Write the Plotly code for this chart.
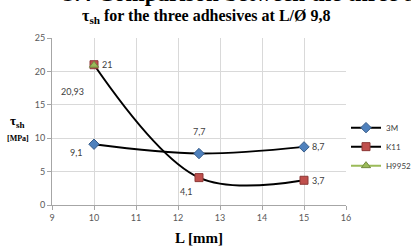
import plotly.graph_objects as go

series_names = ["3M", "K11", "H9952"]
x_3m = [10, 12.5, 15]
y_3m = [9.1, 7.7, 8.7]
x_k11 = [10, 12.5, 15]
y_k11 = [21, 4.1, 3.7]
x_h = [10]
y_h = [20.93]
labels_3m = ["9,1", "7,7", "8,7"]
labels_k11 = ["21", "4,1", "3,7"]
labels_h = ["20,93"]
x_ticks = [9, 10, 11, 12, 13, 14, 15, 16]
y_ticks = [0, 5, 10, 15, 20, 25]

fig = go.Figure()
fig.add_trace(go.Scatter(x=x_3m, y=y_3m, name=series_names[0], mode="lines+markers",
                         line=dict(color="black", width=2, shape="spline", smoothing=1),
                         marker=dict(symbol="diamond", size=8, color="#4f81bd",
                                     line=dict(color="#385d8a", width=1))))
fig.add_trace(go.Scatter(x=x_k11, y=y_k11, name=series_names[1], mode="lines+markers",
                         line=dict(color="black", width=2, shape="spline", smoothing=1),
                         marker=dict(symbol="square", size=8, color="#c0504d",
                                     line=dict(color="#8c3836", width=1))))
fig.add_trace(go.Scatter(x=x_h, y=y_h, name=series_names[2], mode="lines+markers",
                         line=dict(color="#9bbb59", width=2),
                         marker=dict(symbol="triangle-up", size=8, color="#9bbb59",
                                     line=dict(color="#71893f", width=1))))

lab_font = dict(family="Lato, Noto Sans, sans-serif", size=9, color="#404040")
ann = []
offs_3m = [(-18, -8), (0, 22), (14, 0)]
offs_k11 = [(13, 0), (-13, -14), (14, 0)]
offs_h = [(-22, -26)]
for xs, ys, ls, offs in [(x_3m, y_3m, labels_3m, offs_3m), (x_k11, y_k11, labels_k11, offs_k11),
                         (x_h, y_h, labels_h, offs_h)]:
    for xv, yv, lv, (dx, dy) in zip(xs, ys, ls, offs):
        ann.append(dict(x=xv, y=yv, xref="x", yref="y", text=lv, showarrow=False,
                        xshift=dx, yshift=dy, font=lab_font))

serif = "Liberation Serif, Times New Roman, serif"
ann.append(dict(x=0.525, y=1.13, xref="paper", yref="paper", xanchor="center", yanchor="middle",
                text="<b>τ<sub>sh</sub> for the three adhesives at L/Ø 9,8</b>", showarrow=False,
                font=dict(family=serif, size=16, color="black")))
ann.append(dict(x=0.03, y=1.265, xref="paper", yref="paper", xanchor="left", yanchor="middle",
                text="<b>3.4 Comparison between the three adhesives</b>", showarrow=False,
                font=dict(family=serif, size=23, color="black")))
ann.append(dict(x=-0.116, y=0.5, xref="paper", yref="paper", xanchor="center", yanchor="middle",
                text="<b>τ<sub>sh</sub></b>", showarrow=False,
                font=dict(family=serif, size=13, color="black")))
ann.append(dict(x=-0.116, y=0.40, xref="paper", yref="paper", xanchor="center", yanchor="middle",
                text="<b>[MPa]</b>", showarrow=False,
                font=dict(family=serif, size=8, color="black")))
ann.append(dict(x=0.50, y=-0.198, xref="paper", yref="paper", xanchor="center", yanchor="middle",
                text="<b>L [mm]</b>", showarrow=False,
                font=dict(family=serif, size=15, color="black")))

fig.update_layout(
    width=411, height=247,
    margin=dict(l=52, r=65, t=38, b=42, autoexpand=False),
    paper_bgcolor="white", plot_bgcolor="white",
    showlegend=True,
    legend=dict(x=1.0, y=0.55, xanchor="left", yanchor="top",
                font=dict(family="Lato, Noto Sans, sans-serif", size=8, color="#404040"),
                bgcolor="rgba(0,0,0,0)", tracegroupgap=0, itemwidth=30),
    annotations=ann,
    xaxis=dict(range=[9, 16], tickvals=x_ticks, showgrid=True, gridcolor="#d9d9d9",
               zeroline=False, showline=True, linecolor="#a6a6a6", ticks="outside",
               ticklen=4, tickcolor="#a6a6a6",
               tickfont=dict(family="Lato, Noto Sans, sans-serif", size=9, color="#595959")),
    yaxis=dict(range=[0, 25], tickvals=y_ticks, showgrid=True, gridcolor="#d9d9d9",
               zeroline=False, showline=True, linecolor="#a6a6a6", ticks="outside",
               ticklen=4, tickcolor="#a6a6a6",
               tickfont=dict(family="Lato, Noto Sans, sans-serif", size=9, color="#595959")),
)
fig.write_html("out.html", config={"displayModeBar": False},
               post_script="document.body.style.margin='0';")
